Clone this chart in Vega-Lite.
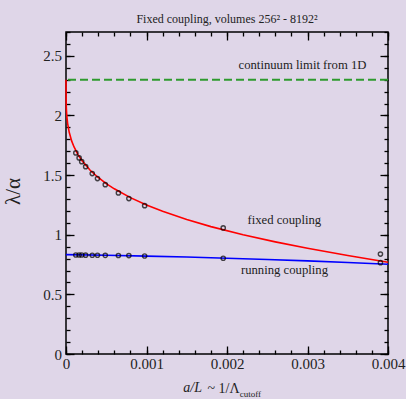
{
  "$schema": "https://vega.github.io/schema/vega-lite/v6.json",
  "width": 322,
  "height": 322,
  "autosize": {"type": "none"},
  "padding": {"left": 66, "top": 32, "right": 18, "bottom": 45},
  "background": "#dfd6e8",
  "title": {
    "text": "Fixed coupling, volumes 256² - 8192²",
    "font": "Liberation Serif",
    "fontSize": 12,
    "fontWeight": "normal",
    "color": "#222222",
    "anchor": "middle",
    "baseline": "alphabetic",
    "offset": 12,
    "dy": 16
  },
  "config": {
    "view": {"stroke": "#000000", "strokeWidth": 1.5},
    "axis": {
      "grid": false,
      "domain": false,
      "tickColor": "#000000",
      "tickWidth": 1.3,
      "labelFont": "Liberation Serif",
      "labelFontSize": 15,
      "labelColor": "#222222",
      "titleFont": "Liberation Serif",
      "titleColor": "#222222",
      "titleFontWeight": "normal"
    }
  },
  "datasets": {
    "curve": [
      {"x": 0, "y": 2.3},
      {"x": 0.000002, "y": 2.104},
      {"x": 0.000005, "y": 2.049},
      {"x": 0.00001, "y": 1.997},
      {"x": 0.00002, "y": 1.934},
      {"x": 0.00004, "y": 1.859},
      {"x": 0.00007, "y": 1.787},
      {"x": 0.0001, "y": 1.736},
      {"x": 0.00015, "y": 1.670},
      {"x": 0.0002, "y": 1.620},
      {"x": 0.0003, "y": 1.541},
      {"x": 0.0004, "y": 1.480},
      {"x": 0.0005, "y": 1.429},
      {"x": 0.0006, "y": 1.385},
      {"x": 0.0008, "y": 1.311},
      {"x": 0.001, "y": 1.249},
      {"x": 0.0012, "y": 1.196},
      {"x": 0.0015, "y": 1.128},
      {"x": 0.0018, "y": 1.068},
      {"x": 0.0022, "y": 1.000},
      {"x": 0.0026, "y": 0.940},
      {"x": 0.003, "y": 0.886},
      {"x": 0.0035, "y": 0.826},
      {"x": 0.004, "y": 0.770}
    ],
    "run": [
      {"x": 0, "y": 0.833},
      {"x": 0.0005, "y": 0.828},
      {"x": 0.001, "y": 0.821},
      {"x": 0.0015, "y": 0.813},
      {"x": 0.002, "y": 0.803},
      {"x": 0.0025, "y": 0.793},
      {"x": 0.003, "y": 0.781},
      {"x": 0.0035, "y": 0.767},
      {"x": 0.004, "y": 0.752}
    ],
    "fixedpts": [
      {"x": 0.000122, "y": 1.686},
      {"x": 0.000163, "y": 1.644},
      {"x": 0.000195, "y": 1.613},
      {"x": 0.000244, "y": 1.571},
      {"x": 0.000326, "y": 1.513},
      {"x": 0.000391, "y": 1.471},
      {"x": 0.000488, "y": 1.420},
      {"x": 0.000651, "y": 1.351},
      {"x": 0.000781, "y": 1.303},
      {"x": 0.000977, "y": 1.244},
      {"x": 0.001953, "y": 1.057},
      {"x": 0.003906, "y": 0.838}
    ],
    "runpts": [
      {"x": 0.000122, "y": 0.830},
      {"x": 0.000163, "y": 0.830},
      {"x": 0.000195, "y": 0.830},
      {"x": 0.000244, "y": 0.829},
      {"x": 0.000326, "y": 0.828},
      {"x": 0.000391, "y": 0.828},
      {"x": 0.000488, "y": 0.827},
      {"x": 0.000651, "y": 0.826},
      {"x": 0.000781, "y": 0.825},
      {"x": 0.000977, "y": 0.822},
      {"x": 0.001953, "y": 0.803},
      {"x": 0.003906, "y": 0.766}
    ],
    "labels": [
      {"x": 0.002938, "y": 2.387, "t": "continuum limit from 1D"},
      {"x": 0.002712, "y": 1.090, "t": "fixed coupling"},
      {"x": 0.002714, "y": 0.671, "t": "running coupling"}
    ]
  },
  "layer": [
    {
      "data": {"name": "curve"},
      "mark": {"type": "line", "color": "#ff0000", "strokeWidth": 1.6},
      "encoding": {
        "x": {"field": "x", "type": "quantitative",
          "scale": {"domain": [0, 0.004], "nice": false, "zero": false},
          "axis": {"orient": "bottom", "values": [0, 0.001, 0.002, 0.003, 0.004], "format": "~g", "tickSize": -8, "labelPadding": 10, "labelFlush": false,
            "title": "~ 1/Λ", "titleFontSize": 14, "titleX": 157, "titleY": 38.3, "titleAlign": "center", "titleBaseline": "alphabetic"}},
        "y": {"field": "y", "type": "quantitative",
          "scale": {"domain": [0, 2.7], "nice": false, "zero": false},
          "axis": {"orient": "left", "values": [0, 0.5, 1, 1.5, 2, 2.5], "format": "~g", "tickSize": -8, "labelPadding": 12.5, "labelFlush": false,
            "title": "λ/α", "titleFontSize": 21, "titleAngle": -90, "titleX": -46.5, "titleY": 159, "titleAlign": "center", "titleBaseline": "alphabetic"}}
      }
    },
    {
      "data": {"name": "run"},
      "mark": {"type": "line", "color": "#0000ff", "strokeWidth": 1.6},
      "encoding": {
        "x": {"field": "x", "type": "quantitative",
          "scale": {"domain": [0, 0.004], "nice": false, "zero": false},
          "axis": {"orient": "bottom", "values": [0, 0.0002, 0.0004, 0.0006, 0.0008, 0.001, 0.0012, 0.0014, 0.0016, 0.0018, 0.002, 0.0022, 0.0024, 0.0026, 0.0028, 0.003, 0.0032, 0.0034, 0.0036, 0.0038, 0.004], "labels": false, "tickSize": -4, "title": null}},
        "y": {"field": "y", "type": "quantitative",
          "scale": {"domain": [0, 2.7], "nice": false, "zero": false},
          "axis": {"orient": "left", "values": [0, 0.1, 0.2, 0.3, 0.4, 0.5, 0.6, 0.7, 0.8, 0.9, 1, 1.1, 1.2, 1.3, 1.4, 1.5, 1.6, 1.7, 1.8, 1.9, 2, 2.1, 2.2, 2.3, 2.4, 2.5, 2.6, 2.7], "labels": false, "tickSize": -4, "title": null}}
      }
    },
    {
      "data": {"name": "fixedpts"},
      "mark": {"type": "point", "shape": "circle", "filled": false, "color": "#000000", "size": 18, "strokeWidth": 1.4},
      "encoding": {
        "x": {"field": "x", "type": "quantitative",
          "scale": {"domain": [0, 0.004], "nice": false, "zero": false},
          "axis": {"orient": "top", "values": [0, 0.001, 0.002, 0.003, 0.004], "labels": false, "tickSize": -8, "title": null}},
        "y": {"field": "y", "type": "quantitative",
          "scale": {"domain": [0, 2.7], "nice": false, "zero": false},
          "axis": {"orient": "right", "values": [0, 0.5, 1, 1.5, 2, 2.5], "labels": false, "tickSize": -8, "title": null}}
      }
    },
    {
      "data": {"name": "runpts"},
      "mark": {"type": "point", "shape": "circle", "filled": false, "color": "#000000", "size": 18, "strokeWidth": 1.4},
      "encoding": {
        "x": {"field": "x", "type": "quantitative",
          "scale": {"domain": [0, 0.004], "nice": false, "zero": false},
          "axis": {"orient": "top", "values": [0, 0.0002, 0.0004, 0.0006, 0.0008, 0.001, 0.0012, 0.0014, 0.0016, 0.0018, 0.002, 0.0022, 0.0024, 0.0026, 0.0028, 0.003, 0.0032, 0.0034, 0.0036, 0.0038, 0.004], "labels": false, "tickSize": -4, "title": null}},
        "y": {"field": "y", "type": "quantitative",
          "scale": {"domain": [0, 2.7], "nice": false, "zero": false},
          "axis": {"orient": "right", "values": [0, 0.1, 0.2, 0.3, 0.4, 0.5, 0.6, 0.7, 0.8, 0.9, 1, 1.1, 1.2, 1.3, 1.4, 1.5, 1.6, 1.7, 1.8, 1.9, 2, 2.1, 2.2, 2.3, 2.4, 2.5, 2.6, 2.7], "labels": false, "tickSize": -4, "title": null}}
      }
    },
    {
      "data": {"values": [{"y": 2.3}]},
      "mark": {"type": "rule", "color": "#2e9a2e", "strokeWidth": 2, "strokeDash": [8, 4]},
      "encoding": {
        "y": {"field": "y", "type": "quantitative", "scale": {"domain": [0, 2.7], "nice": false, "zero": false}, "axis": null}
      }
    },
    {
      "data": {"name": "labels"},
      "mark": {"type": "text", "font": "Liberation Serif", "fontSize": 12.7, "color": "#222222", "align": "center", "baseline": "alphabetic"},
      "encoding": {
        "x": {"field": "x", "type": "quantitative", "scale": {"domain": [0, 0.004], "nice": false, "zero": false}, "axis": null},
        "y": {"field": "y", "type": "quantitative", "scale": {"domain": [0, 2.7], "nice": false, "zero": false}, "axis": null},
        "text": {"field": "t"}
      }
    },
    {
      "data": {"values": [{"x": 0.001457, "y": -0.321, "t": "a/L"}]},
      "mark": {"type": "text", "font": "Liberation Serif", "fontSize": 14, "fontStyle": "italic", "color": "#222222", "align": "left", "baseline": "alphabetic"},
      "encoding": {
        "x": {"field": "x", "type": "quantitative", "scale": {"domain": [0, 0.004], "nice": false, "zero": false}, "axis": null},
        "y": {"field": "y", "type": "quantitative", "scale": {"domain": [0, 2.7], "nice": false, "zero": false}, "axis": null},
        "text": {"field": "t"}
      }
    },
    {
      "data": {"values": [{"x": 0.002157, "y": -0.358, "t": "cutoff"}]},
      "mark": {"type": "text", "font": "Liberation Serif", "fontSize": 9, "color": "#222222", "align": "left", "baseline": "alphabetic"},
      "encoding": {
        "x": {"field": "x", "type": "quantitative", "scale": {"domain": [0, 0.004], "nice": false, "zero": false}, "axis": null},
        "y": {"field": "y", "type": "quantitative", "scale": {"domain": [0, 2.7], "nice": false, "zero": false}, "axis": null},
        "text": {"field": "t"}
      }
    }
  ],
  "resolve": {"axis": {"x": "independent", "y": "independent"}}
}
